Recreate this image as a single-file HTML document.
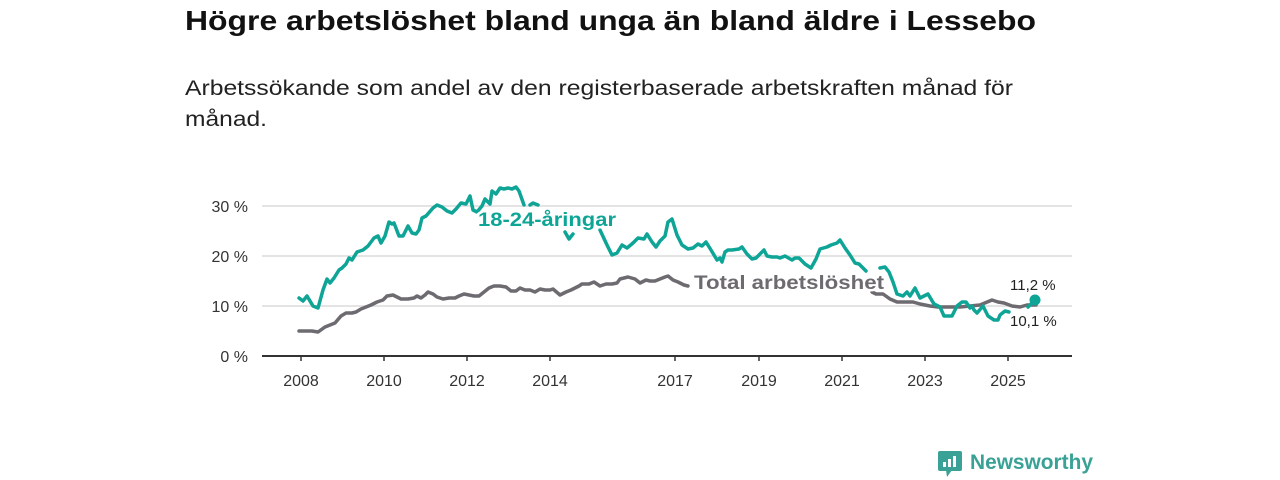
<!DOCTYPE html>
<html><head><meta charset="utf-8"><style>
html,body{margin:0;padding:0;background:#fff;}
svg{display:block;font-family:"Liberation Sans","DejaVu Sans",sans-serif;}
</style></head><body>
<svg width="1280" height="480" viewBox="0 0 1280 480" xmlns="http://www.w3.org/2000/svg">
<text x="185" y="30" font-size="28" font-weight="bold" fill="#111" textLength="851" lengthAdjust="spacingAndGlyphs">Högre arbetslöshet bland unga än bland äldre i Lessebo</text>
<text x="185" y="95" font-size="21" fill="#222" textLength="828" lengthAdjust="spacingAndGlyphs">Arbetssökande som andel av den registerbaserade arbetskraften månad för</text>
<text x="185" y="126" font-size="21" fill="#222" textLength="82" lengthAdjust="spacingAndGlyphs">månad.</text>
<g stroke="#dcdcdc" stroke-width="1.5">
<line x1="262" y1="206" x2="1072" y2="206"/><line x1="262" y1="256" x2="1072" y2="256"/><line x1="262" y1="306" x2="1072" y2="306"/>
</g>
<line x1="262" y1="356" x2="1072" y2="356" stroke="#333" stroke-width="2"/>
<g stroke="#333" stroke-width="1.5">
<line x1="301" y1="356" x2="301" y2="361"/><line x1="384" y1="356" x2="384" y2="361"/><line x1="467" y1="356" x2="467" y2="361"/><line x1="550" y1="356" x2="550" y2="361"/><line x1="675" y1="356" x2="675" y2="361"/><line x1="759" y1="356" x2="759" y2="361"/><line x1="842" y1="356" x2="842" y2="361"/><line x1="925" y1="356" x2="925" y2="361"/><line x1="1008" y1="356" x2="1008" y2="361"/>
</g>
<g font-size="16" fill="#333" text-anchor="end">
<text x="248" y="212">30 %</text><text x="248" y="262">20 %</text><text x="248" y="312">10 %</text><text x="248" y="362">0 %</text>
</g>
<g font-size="16" fill="#333" text-anchor="middle">
<text x="301" y="386">2008</text><text x="384" y="386">2010</text><text x="467" y="386">2012</text><text x="550" y="386">2014</text><text x="675" y="386">2017</text><text x="759" y="386">2019</text><text x="842" y="386">2021</text><text x="925" y="386">2023</text><text x="1008" y="386">2025</text>
</g>
<g fill="none" stroke-width="3.5" stroke-linejoin="round" stroke-linecap="round">
<polyline stroke="#6d6a70" points="299,331 305,331 312,331 318,332 325,327 330,325 335,323 341,316 346,313 352,313 356,312 361,309 366,307 371,305 377,302 383,300 387,296 393,295 397,297 401,299 408,299 414,298 417,296 421,298 425,295 428,292 433,294 437,297 443,299 449,298 455,298 459,296 464,294 469,295 474,296 479,296 484,292 489,288 494,286 500,286 506,287 511,291 516,291 520,288 525,290 530,290 535,292 540,289 545,290 550,290 553,289 560,295 566,292 571,290 575,288 579,286 582,284 589,284 594,282 600,286 606,284 612,284 617,283 620,279 628,277 635,279 640,283 646,280 650,281 655,281 660,279 665,277 668,276 673,280 678,282 684,285 688,286"/>
<polyline stroke="#6d6a70" points="872,292 876,294 883,294 890,299 897,302 906,302 913,302 920,304 930,306 938,307 950,307 960,307 970,306 980,305 992,300 998,302 1004,303 1012,306 1020,307 1027,305 1036,305"/>
<polyline stroke="#0ea597" points="299,298 303,301 307,296 313,306 318,308 323,290 327,279 330,283 334,278 339,270 342,268 346,264 349,258 352,260 357,252 363,250 368,246 374,238 378,236 381,243 385,236 389,222 392,224 394,223 399,236 403,236 408,226 412,233 416,234 419,230 422,218 426,216 433,208 437,205 442,207 447,211 452,213 456,209 461,203 466,204 470,196 473,210 477,212 482,206 485,199 490,204 492,191 496,194 500,188 504,189 508,188 512,189 516,187 519,191 524,205"/>
<polyline stroke="#0ea597" points="530,205 533,203 538,205"/>
<polyline stroke="#0ea597" points="565,232 569,239 573,234"/>
<polyline stroke="#0ea597" points="600,230 607,245 612,255 617,253 622,245 627,248 633,243 638,238 644,239 647,234 652,242 656,247 660,241 665,236 668,222 672,219 677,235 682,245 688,249 693,248 698,244 702,246 706,242 711,250 717,260 720,258 722,262 725,252 728,250 732,250 739,249 742,247 747,254 752,259 756,258 760,254 764,250 767,256 772,257 777,257 780,258 785,256 792,260 795,258 799,258 805,264 811,268 816,259 820,249 827,247 831,245 837,243 840,240 845,248 850,255 855,263 859,264"/>
<polyline stroke="#0ea597" points="860,265 866,271"/>
<polyline stroke="#0ea597" points="880,268 885,267 889,272 893,282 897,294 903,296 907,292 910,296 915,288 920,298 924,296 928,294 934,304 940,307 944,316 952,316 957,306 962,302 966,302 970,308 972,306 974,310 977,313 983,306 988,316 994,320 998,320 1000,315 1005,311 1009,312"/>
<polyline stroke="#0ea597" points="1028,307 1035,300"/>
</g>
<circle cx="1035" cy="300" r="5.5" fill="#0ea597"/>
<g font-weight="bold" font-size="19" stroke="#fff" stroke-width="5" stroke-linejoin="round" paint-order="stroke">
<text x="478" y="226" fill="#0ea597" textLength="138" lengthAdjust="spacingAndGlyphs">18-24-åringar</text>
<text x="694" y="289" fill="#6d6a70" textLength="190" lengthAdjust="spacingAndGlyphs">Total arbetslöshet</text>
</g>
<g font-size="15" fill="#222" stroke="#fff" stroke-width="4" paint-order="stroke">
<text x="1010" y="290">11,2 %</text>
<text x="1010" y="326">10,1 %</text>
</g>
<g>
<rect x="938" y="451" width="24" height="20" rx="2" fill="#3aa196"/>
<polygon points="946,470 952,470 947,477" fill="#3aa196"/>
<rect x="943" y="462" width="3" height="5" fill="#fff"/>
<rect x="948" y="459" width="3" height="8" fill="#fff"/>
<rect x="953" y="456" width="3" height="11" fill="#fff"/>
<text x="970" y="469" font-size="21" font-weight="bold" fill="#3aa196" textLength="123" lengthAdjust="spacingAndGlyphs">Newsworthy</text>
</g>
</svg>
</body></html>
